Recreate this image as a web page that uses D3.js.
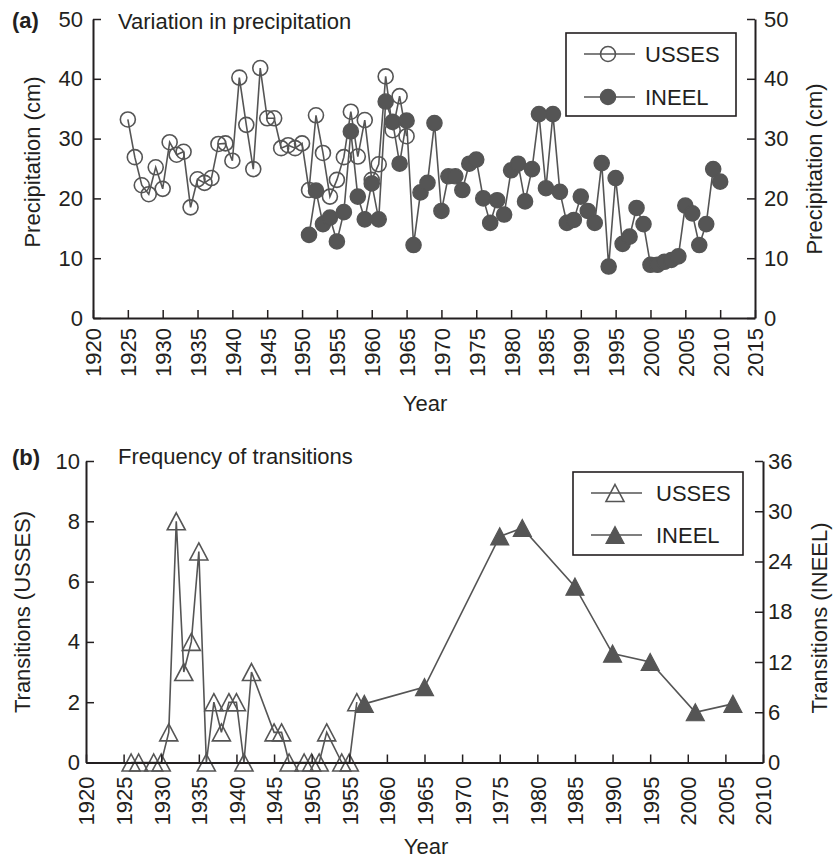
<!DOCTYPE html>
<html>
<head>
<meta charset="utf-8">
<script src="https://cdn.jsdelivr.net/npm/d3@7"></script>
<style>
  body { margin: 0; background: #fff; }
  svg { display: block; font-family: "Liberation Sans", Arial, sans-serif; }
</style>
</head>
<body>
<svg id="chart" width="833" height="861"></svg>
<script>
// ---- data ----
const usssesPrecipYears = [1925, 1926, 1927, 1928, 1929, 1930, 1931, 1932, 1933, 1934,
  1935, 1936, 1937, 1938, 1939, 1940, 1941, 1942, 1943, 1944,
  1945, 1946, 1947, 1948, 1949, 1950, 1951, 1952, 1953, 1954,
  1955, 1956, 1957, 1958, 1959, 1960, 1961, 1962, 1963, 1964, 1965];
const usssesPrecip = [33.2, 26.9, 22.2, 20.7, 25.2, 21.6, 29.4, 27.3, 27.8, 18.5,
  23.2, 22.6, 23.4, 29.1, 29.2, 26.3, 40.2, 32.3, 24.9, 41.8,
  33.4, 33.4, 28.4, 28.9, 28.4, 29.2, 21.4, 33.9, 27.6, 20.3,
  23.1, 26.9, 34.5, 27.0, 33.1, 23.1, 25.7, 40.4, 31.4, 37.1, 30.4];

const ineelPrecipYears = [1951, 1952, 1953, 1954, 1955, 1956, 1957, 1958, 1959, 1960,
  1961, 1962, 1963, 1964, 1965, 1966, 1967, 1968, 1969, 1970,
  1971, 1972, 1973, 1974, 1975, 1976, 1977, 1978, 1979, 1980,
  1981, 1982, 1983, 1984, 1985, 1986, 1987, 1988, 1989, 1990,
  1991, 1992, 1993, 1994, 1995, 1996, 1997, 1998, 1999, 2000,
  2001, 2002, 2003, 2004, 2005, 2006, 2007, 2008, 2009, 2010];
const ineelPrecip = [13.9, 21.3, 15.7, 16.8, 12.8, 17.7, 31.2, 20.3, 16.5, 22.5,
  16.5, 36.2, 32.8, 25.8, 33.0, 12.2, 21.0, 22.6, 32.6, 17.9,
  23.7, 23.7, 21.4, 25.8, 26.5, 20.0, 15.9, 19.7, 17.3, 24.7,
  25.8, 19.5, 24.9, 34.1, 21.7, 34.1, 21.1, 15.9, 16.4, 20.3,
  17.9, 15.9, 25.9, 8.6, 23.4, 12.4, 13.6, 18.4, 15.7, 8.9,
  8.9, 9.4, 9.7, 10.3, 18.8, 17.5, 12.2, 15.7, 24.9, 22.8];

const usssesTransYears = [1926, 1927, 1929, 1930, 1931, 1932, 1933, 1934, 1935, 1936,
  1937, 1938, 1939, 1940, 1941, 1942, 1945, 1946, 1947, 1949,
  1950, 1951, 1952, 1954, 1955, 1956];
const usssesTrans = [0, 0, 0, 0, 1, 8, 3, 4, 7, 0,
  2, 1, 2, 2, 0, 3, 1, 1, 0, 0,
  0, 0, 1, 0, 0, 2];

const ineelTransYears = [1957, 1965, 1975, 1978, 1985, 1990, 1995, 2001, 2006];
const ineelTrans = [7, 9, 27, 28, 21, 13, 12, 6, 7];

const yearTicksA = [1920, 1925, 1930, 1935, 1940, 1945, 1950, 1955, 1960, 1965,
  1970, 1975, 1980, 1985, 1990, 1995, 2000, 2005, 2010, 2015];
const precipTicks = [0, 10, 20, 30, 40, 50];
const yearTicksB = [1920, 1925, 1930, 1935, 1940, 1945, 1950, 1955, 1960, 1965,
  1970, 1975, 1980, 1985, 1990, 1995, 2000, 2005, 2010];
const usssesTransTicks = [0, 2, 4, 6, 8, 10];
const ineelTransTicks = [0, 6, 12, 18, 24, 30, 36];

// ---- drawing ----
const ink = "#231f20";
const grey = "#555555";
const svg = d3.select("#chart");
const triangle = "M0,-8.5L9,8.5L-9,8.5Z";

function styleAxis(g) {
  g.attr("font-family", null).attr("font-size", null);
  g.select(".domain").attr("stroke", ink).attr("stroke-width", 2);
  g.selectAll(".tick line").attr("stroke", ink).attr("stroke-width", 1.5);
  g.selectAll(".tick text").attr("fill", ink).style("font-size", "22px");
}

function rotateYearLabels(g, pad) {
  g.selectAll(".tick text")
    .attr("transform", "rotate(-90)")
    .attr("x", -pad)
    .attr("y", 0)
    .attr("dy", "0.36em")
    .attr("text-anchor", "end");
}

function text(x, y, str, opts = {}) {
  const t = svg.append("text")
    .attr("x", x).attr("y", y)
    .attr("fill", ink)
    .style("font-size", "22px")
    .text(str);
  if (opts.bold) t.style("font-weight", "bold");
  if (opts.anchor) t.attr("text-anchor", opts.anchor);
  if (opts.rotate) t.attr("transform", `rotate(-90,${x},${y})`);
  return t;
}

function legend(x, y, w, h, rows) {
  const g = svg.append("g");
  g.append("rect").attr("x", x).attr("y", y).attr("width", w).attr("height", h)
    .attr("fill", "#fff").attr("stroke", ink).attr("stroke-width", 1.6);
  rows.forEach(r => {
    g.append("line").attr("x1", x + 18).attr("x2", x + 69).attr("y1", r.y).attr("y2", r.y)
      .attr("stroke", grey).attr("stroke-width", 1.6);
    r.marker(g.append("g").attr("transform", `translate(${x + 42},${r.y})`));
    g.append("text").attr("x", x + 79 + r.dx).attr("y", r.y + 8).attr("fill", ink)
      .style("font-size", "22px").text(r.label);
  });
}

const openCircle = g => g.append("circle").attr("r", 7.5).attr("fill", "none")
  .attr("stroke", grey).attr("stroke-width", 1.6);
const fullCircle = g => g.append("circle").attr("r", 7.6).attr("fill", grey)
  .attr("stroke", grey).attr("stroke-width", 1.4);
const openTri = g => g.append("path").attr("d", triangle).attr("fill", "none")
  .attr("stroke", grey).attr("stroke-width", 1.6);
const fullTri = g => g.append("path").attr("d", triangle).attr("fill", grey)
  .attr("stroke", grey).attr("stroke-width", 1.2);

function series(g, xs, ys, x, y, marker) {
  const pts = xs.map((d, i) => [x(d), y(ys[i])]);
  g.append("path").attr("d", d3.line()(pts)).attr("fill", "none")
    .attr("stroke", grey).attr("stroke-width", 1.6);
  pts.forEach(p => marker(g.append("g").attr("transform", `translate(${p[0]},${p[1]})`)));
}

// ---------- panel (a) ----------
const xA = d3.scaleLinear().domain([1920, 2015]).range([93, 755]);
const yA = d3.scaleLinear().domain([0, 50]).range([318, 19]);

const plotA = svg.append("g");
series(plotA, usssesPrecipYears, usssesPrecip, xA, yA, openCircle);
series(plotA, ineelPrecipYears, ineelPrecip, xA, yA, fullCircle);

svg.append("g").attr("transform", "translate(0,318)")
  .call(d3.axisBottom(xA).tickValues(yearTicksA).tickFormat(d3.format("d"))
    .tickSizeInner(-8).tickSizeOuter(0).tickPadding(10))
  .call(styleAxis).call(g => rotateYearLabels(g, 10));
svg.append("g").attr("transform", "translate(93,0)")
  .call(d3.axisLeft(yA).tickValues(precipTicks).tickSizeInner(-8).tickSizeOuter(0).tickPadding(10))
  .call(styleAxis);
svg.append("g").attr("transform", "translate(755,0)")
  .call(d3.axisRight(yA).tickValues(precipTicks).tickSizeInner(-8).tickSizeOuter(0).tickPadding(9))
  .call(styleAxis);

legend(566, 33, 170, 83, [
  { y: 54, label: "USSES", marker: openCircle, dx: 0 },
  { y: 97, label: "INEEL", marker: fullCircle, dx: 0 }
]);

text(12, 28, "(a)", { bold: true });
text(118, 29, "Variation in precipitation");
text(40, 162, "Precipitation (cm)", { anchor: "middle", rotate: true });
text(822, 169, "Precipitation (cm)", { anchor: "middle", rotate: true });
text(425, 411, "Year", { anchor: "middle" });

// ---------- panel (b) ----------
const xB = d3.scaleLinear().domain([1920, 2010]).range([86, 763]);
const yB = d3.scaleLinear().domain([0, 10]).range([762.5, 461]);
const yB2 = d3.scaleLinear().domain([0, 36]).range([762.5, 461]);

const plotB = svg.append("g");
series(plotB, usssesTransYears, usssesTrans, xB, yB, openTri);
series(plotB, ineelTransYears, ineelTrans, xB, yB2, fullTri);

svg.append("g").attr("transform", "translate(0,762.5)")
  .call(d3.axisBottom(xB).tickValues(yearTicksB).tickFormat(d3.format("d"))
    .tickSizeInner(-8).tickSizeOuter(0).tickPadding(14))
  .call(styleAxis).call(g => rotateYearLabels(g, 14));
svg.append("g").attr("transform", "translate(86,0)")
  .call(d3.axisLeft(yB).tickValues(usssesTransTicks).tickSizeInner(-8).tickSizeOuter(0).tickPadding(6))
  .call(styleAxis);
svg.append("g").attr("transform", "translate(763,0)")
  .call(d3.axisRight(yB2).tickValues(ineelTransTicks).tickSizeInner(-8).tickSizeOuter(0).tickPadding(5))
  .call(styleAxis);

legend(573, 472, 170, 83, [
  { y: 493, label: "USSES", marker: openTri, dx: 4 },
  { y: 535, label: "INEEL", marker: fullTri, dx: 4 }
]);

text(12, 465, "(b)", { bold: true });
text(118, 464, "Frequency of transitions");
text(30, 612, "Transitions (USSES)", { anchor: "middle", rotate: true });
text(827, 618, "Transitions (INEEL)", { anchor: "middle", rotate: true });
text(426, 854, "Year", { anchor: "middle" });
</script>
</body>
</html>
